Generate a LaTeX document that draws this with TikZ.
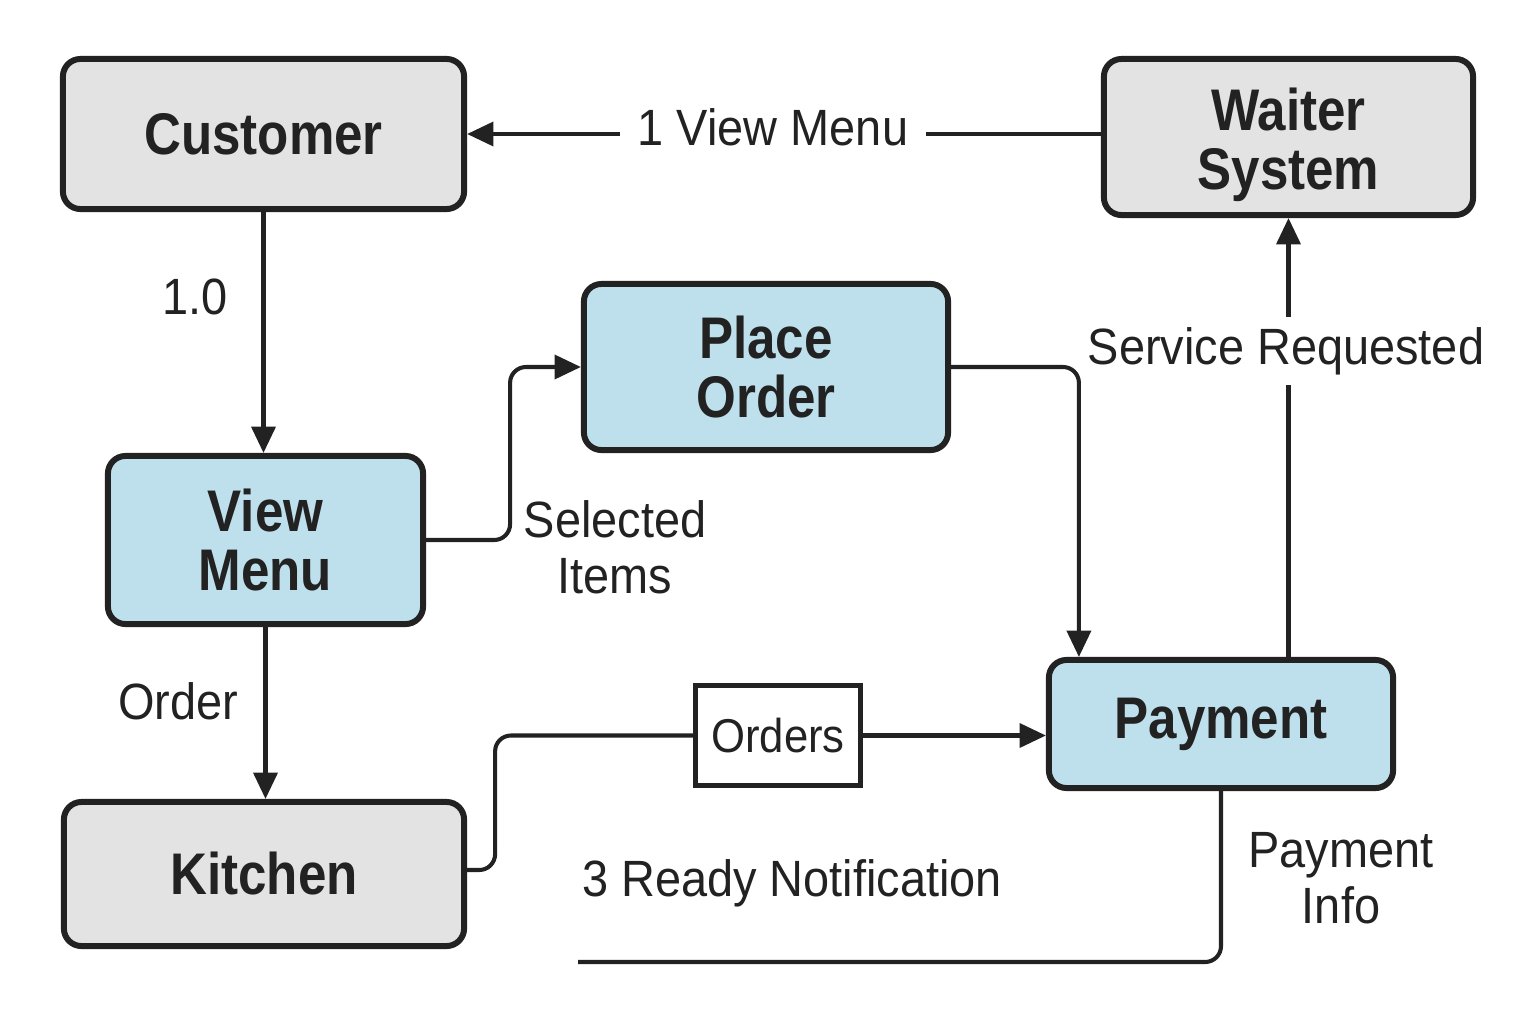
\documentclass[tikz,border=0pt]{standalone}
\usepackage{fontspec}
\setmainfont{Liberation Sans}[FakeStretch=0.87]
\newfontfamily\lblfont{Liberation Sans}[FakeStretch=0.92]
\usetikzlibrary{arrows.meta,calc}
\definecolor{ink}{HTML}{222222}
\definecolor{boxgray}{HTML}{E3E3E3}
\definecolor{boxblue}{HTML}{BEE0EC}
\tikzset{
  box/.style={draw=ink, line width=1.7pt, rounded corners=5pt, align=center,
    font=\fontsize{16.7}{17}\selectfont\bfseries, text=ink, inner sep=0pt},
  graybox/.style={box, fill=boxgray},
  bluebox/.style={box, fill=boxblue},
  store/.style={draw=ink, line width=1.4pt, fill=white, font=\lblfont\fontsize{13.5}{15}\selectfont, text=ink, inner sep=0pt},
  conn/.style={draw=ink, line width=1.15pt, rounded corners=4.5pt},
  arr/.style={conn, -{Triangle[length=7.5pt,width=6.8pt]}},
  lbl/.style={font=\lblfont\fontsize{14.5}{16}\selectfont, text=ink, align=center, inner sep=0pt},
}
\begin{document}
\begin{tikzpicture}[x=0.01cm,y=-0.01cm]
\useasboundingbox[fill=white] (0,0) rectangle (1536,1024);
% nodes
\node[graybox, minimum width=4.01cm, minimum height=1.50cm] (customer) at (263.5,134) {Customer};
\node[graybox, minimum width=3.69cm, minimum height=1.56cm] (waiter) at (1288.5,137) {\rule{0pt}{16.5pt}Waiter\\System};
\node[bluebox, minimum width=3.64cm, minimum height=1.66cm] (place) at (766,367) {Place\\Order};
\node[bluebox, minimum width=3.15cm, minimum height=1.68cm] (view) at (265.5,540) {View\\Menu};
\node[bluebox, minimum width=3.44cm, minimum height=1.28cm] (payment) at (1221,724) {\raisebox{3pt}{Payment}};
\node[graybox, minimum width=4.00cm, minimum height=1.44cm] (kitchen) at (264,874) {Kitchen};
\node[store, minimum width=1.65cm, minimum height=1.00cm] (orders) at (778,735.5) {Orders};
\coordinate (pend) at (578,962);
% connectors
\draw[arr] (waiter.west |- customer.east) -- (customer.east);
\node[lbl, fill=white, inner xsep=5pt, inner ysep=2pt] (l1) at (773,127) {1 View Menu};
\draw[arr] (customer.south) -- (customer.south |- view.north);
\draw[arr] (view.east) -- ++(84,0) |- (place.west);
\draw[arr] (view.south) -- (view.south |- kitchen.north);
\draw[conn] ($(kitchen.east)+(0,-4)$) -- ++(28,0) |- (orders.west);
\draw[arr] (orders.east) -- (payment.west |- orders.east);
\draw[arr] (waiter.south |- payment.north) -- (waiter.south);
\node[lbl, fill=white, inner xsep=1pt, inner ysep=3pt] (l2) at (1286,351) {Service Requested};
\draw[arr] (place.east) -| ($(payment.north west)+(33,0)$);
\draw[conn] (payment.south) |- (pend);
% labels
\node[lbl] (l3) at (195,297) {1.0};
\node[lbl] (l4) at (615,547) {Selected\\Items};
\node[lbl] (l5) at (178,701) {Order};
\node[lbl] (l6) at (792,883) {3 Ready Notification};
\node[lbl] (l7) at (1341,878) {Payment\\Info};
\end{tikzpicture}
\end{document}
